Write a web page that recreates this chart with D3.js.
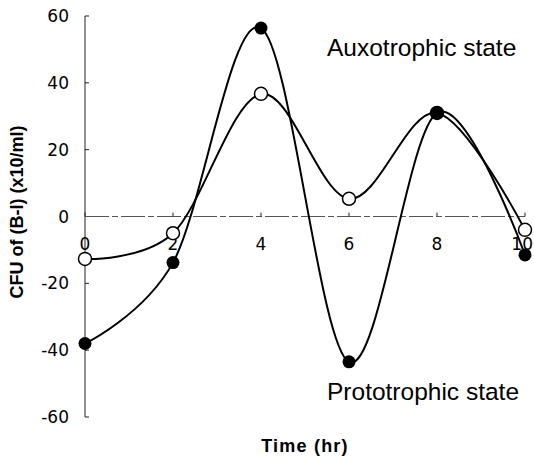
<!DOCTYPE html>
<html><head><meta charset="utf-8">
<script src="https://cdn.jsdelivr.net/npm/d3@7"></script>
<style>body{margin:0;background:#fff}svg{display:block}text{font-family:"Liberation Sans",Arial,sans-serif}</style>
</head><body>
<svg id="c" width="534" height="460"></svg>
<script>
const times = [0, 2, 4, 6, 8, 10];
const auxotrophic = [-12.7, -5, 36.7, 5.3, 31, -4];
const prototrophic = [-38, -13.8, 56.4, -43.5, 31, -11.5];
const xTicks = [0, 2, 4, 6, 8, 10];
const yTicks = [-60, -40, -20, 0, 20, 40, 60];

const svg = d3.select("#c");
const x = d3.scaleLinear().domain([0, 10]).range([85, 525]);
const y = d3.scaleLinear().domain([-60, 60]).range([417, 16]);

// y axis
svg.append("line").attr("x1", x(0)).attr("x2", x(0)).attr("y1", y(60)).attr("y2", y(-60))
  .attr("stroke", "#222").attr("stroke-width", 1);
yTicks.forEach(t => {
  svg.append("line").attr("x1", x(0)).attr("x2", x(0) + 4).attr("y1", y(t)).attr("y2", y(t))
    .attr("stroke", "#222");
  svg.append("text").attr("x", 69).attr("y", y(t) + 6).attr("text-anchor", "end")
    .attr("font-size", 17).style("font-family", "'DejaVu Sans', sans-serif").text(t);
});
// x axis at zero
svg.append("line").attr("x1", x(0)).attr("x2", x(10)).attr("y1", y(0)).attr("y2", y(0))
  .attr("stroke", "#555").attr("stroke-width", 1).attr("stroke-dasharray", "24,3,6,3");
xTicks.forEach(t => {
  svg.append("line").attr("x1", x(t)).attr("x2", x(t)).attr("y1", y(0)).attr("y2", y(0) - 4)
    .attr("stroke", "#222");
  const last = t === xTicks[xTicks.length - 1];
  svg.append("text").attr("x", last ? 533 : x(t)).attr("y", 250)
    .attr("text-anchor", last ? "end" : "middle")
    .attr("font-size", 17).style("font-family", "'DejaVu Sans', sans-serif").text(t);
});

const line = d3.line().x((d, i) => x(times[i])).y(d => y(d)).curve(d3.curveCardinal.tension(0));

svg.append("path").attr("d", line(auxotrophic)).attr("fill", "none").attr("stroke", "#000").attr("stroke-width", 2);
svg.append("path").attr("d", line(prototrophic)).attr("fill", "none").attr("stroke", "#000").attr("stroke-width", 2);

svg.selectAll(".o").data(auxotrophic).enter().append("circle")
  .attr("cx", (d, i) => x(times[i])).attr("cy", d => y(d)).attr("r", 6.5)
  .attr("fill", "#fff").attr("stroke", "#000").attr("stroke-width", 1.5);
svg.selectAll(".f").data(prototrophic).enter().append("circle")
  .attr("cx", (d, i) => x(times[i])).attr("cy", d => y(d)).attr("r", 6.5)
  .attr("fill", "#000");

svg.append("text").attr("x", 327).attr("y", 56).attr("font-size", 24.5).text("Auxotrophic state");
svg.append("text").attr("x", 327).attr("y", 400).attr("font-size", 24.5).text("Prototrophic state");
svg.append("text").attr("x", 305).attr("y", 452).attr("text-anchor", "middle")
  .attr("font-size", 18).attr("font-weight", "bold").attr("letter-spacing", 1.2).text("Time (hr)");
svg.append("text").attr("transform", "translate(23,212) rotate(-90)").attr("text-anchor", "middle")
  .attr("font-size", 18).attr("font-weight", "bold").text("CFU of (B-I) (x10/ml)");
</script>
</body></html>
